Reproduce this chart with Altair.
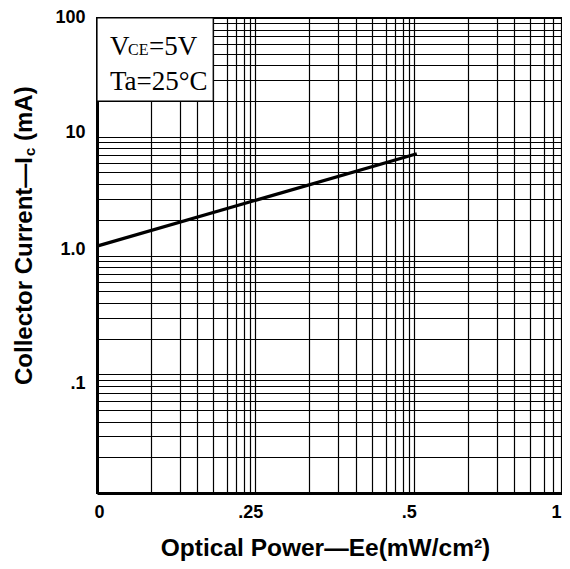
import altair as alt
import pandas as pd

# Curve read from the graph paper. The x axis is a three-section graph paper:
# section edges 0 -> "0", 1 -> ".25", 2 -> ".5", 3 -> "1" (paper units)
ee_pos = [0.0, 2.02]
ic_ma = [1.20, 7.2]

# minor vertical rulings inside each paper section (fractions of a section)
x_minor = [0.342, 0.525, 0.633, 0.734, 0.823, 0.880, 0.930, 0.968]
x_end = 2.937  # visible right end of the paper (picture is cropped there)
x_major = [0, 1, 2, x_end]
x_major_labels = ["0", ".25", ".5", "1"]

# log y rulings
y_decades = [0.01, 0.1, 1, 10]
y_mult = [1, 2, 3, 4, 5, 6, 7, 8, 9]
y_label_vals = [100, 10, 1, 0.1]
y_label_txt = ["100", "10", "1.0", ".1"]

# annotation box (paper units / mA)
box_x = [0.0, 0.734]
box_y = [20, 100]

x_grid = []
for d in range(3):
    x_grid.append(float(d))
    for f in x_minor:
        v = round(d + f, 4)
        if v < x_end:
            x_grid.append(v)
x_grid.append(x_end)

y_grid = []
for d in y_decades:
    for m in y_mult:
        y_grid.append(round(m * d, 6))
y_grid.append(100.0)

x_label_expr = ""
for v, t in zip(x_major, x_major_labels):
    x_label_expr += f"abs(datum.value - {v}) < 1e-6 ? '{t}' : "
x_label_expr += "''"

y_label_expr = ""
for v, t in zip(y_label_vals, y_label_txt):
    y_label_expr += f"abs(datum.value - {v}) < 1e-9 ? '{t}' : "
y_label_expr += "''"

FONT = "Liberation Sans"

x_scale = alt.Scale(domain=[0, x_end], nice=False, zero=False)
y_scale = alt.Scale(type="log", domain=[0.01, 100], nice=False)

x_axis = alt.Axis(
    values=x_grid, grid=True, gridColor="black", gridWidth=1.2, gridOpacity=1,
    ticks=False, domain=True, domainColor="black", domainWidth=3,
    labelExpr=x_label_expr, labelFont=FONT, labelFontWeight="bold", labelFontSize=18,
    labelColor="black", labelPadding=10, labelFlush=False, labelOverlap=False, labelBound=False,
    labelOffset={"expr": f"datum.value == 0 ? 2 : datum.value > {x_end - 0.001} ? -6 : -5"},
    title="Optical Power—Ee(mW/cm²)", titleFont=FONT, titleFontWeight="bold",
    titleFontSize=24.5, titleColor="black", titleX=228, titleY=55,
    titleBaseline="middle", titleAlign="center",
)
y_axis = alt.Axis(
    values=y_grid, grid=True, gridColor="black", gridWidth=1.2, gridOpacity=1,
    ticks=False, domain=True, domainColor="black", domainWidth=3,
    labelExpr=y_label_expr, labelFont=FONT, labelFontWeight="bold", labelFontSize=18,
    labelColor="black", labelPadding=12, labelFlush=False, labelOverlap=False, labelBound=False,
    labelOffset={"expr": "abs(datum.value - 100) < 1e-9 ? -1 : abs(datum.value - 10) < 1e-9 ? -4 : abs(datum.value - 1) < 1e-9 ? -6 : 9"},
    title=None,
)

box_df = pd.DataFrame({"x0": [box_x[0]], "x1": [box_x[1]], "y0": [box_y[0]], "y1": [box_y[1]]})
line_df = pd.DataFrame({"ee": ee_pos, "ic": ic_ma})

box = alt.Chart(box_df).mark_rect(fill="white", stroke="black", strokeWidth=1.2).encode(
    x=alt.X("x0:Q", scale=x_scale, axis=x_axis),
    x2="x1:Q",
    y=alt.Y("y0:Q", scale=y_scale, axis=y_axis),
    y2="y1:Q",
)

line = alt.Chart(line_df).mark_line(color="black", strokeWidth=3.2).encode(
    x=alt.X("ee:Q", scale=x_scale, axis=x_axis),
    y=alt.Y("ic:Q", scale=y_scale, axis=y_axis),
)

serif = "Liberation Serif"
def txt(s, x, y, size, font=serif, align="left", baseline="alphabetic", angle=0, weight="normal", dx=0, dy=0):
    return alt.Chart(box_df).mark_text(
        text=s, font=font, fontSize=size, align=align, baseline=baseline, angle=angle,
        fontWeight=weight, color="black", dx=dx, dy=dy,
    ).encode(x=alt.value(x), y=alt.value(y))

ann = [
    txt("V", 13, 37, 27),
    txt("CE", 31, 37, 16),
    txt("=5V", 52, 37, 27),
    txt("Ta=25°C", 13, 72, 27),
]

# y axis title with subscript
ytitle = [
    txt("Collector Current—I", -72, 139, 24, font=FONT, align="right", baseline="middle", angle=270, weight="bold"),
    txt("c", -72, 139, 15, font=FONT, align="left", baseline="middle", angle=270, weight="bold", dx=1, dy=5),
    txt("(mA)", -72, 139, 24, font=FONT, align="left", baseline="middle", angle=270, weight="bold", dx=16),
]

chart = alt.layer(box, *ann, line, *ytitle).properties(
    width=465, height=475,
    autosize=alt.AutoSizeParams(type="none"),
    padding={"left": 89, "top": 10, "right": 0, "bottom": 70},
).configure_view(stroke="black", strokeWidth=2)

chart.save("out.html", embed_options={"renderer": "svg", "actions": False})
